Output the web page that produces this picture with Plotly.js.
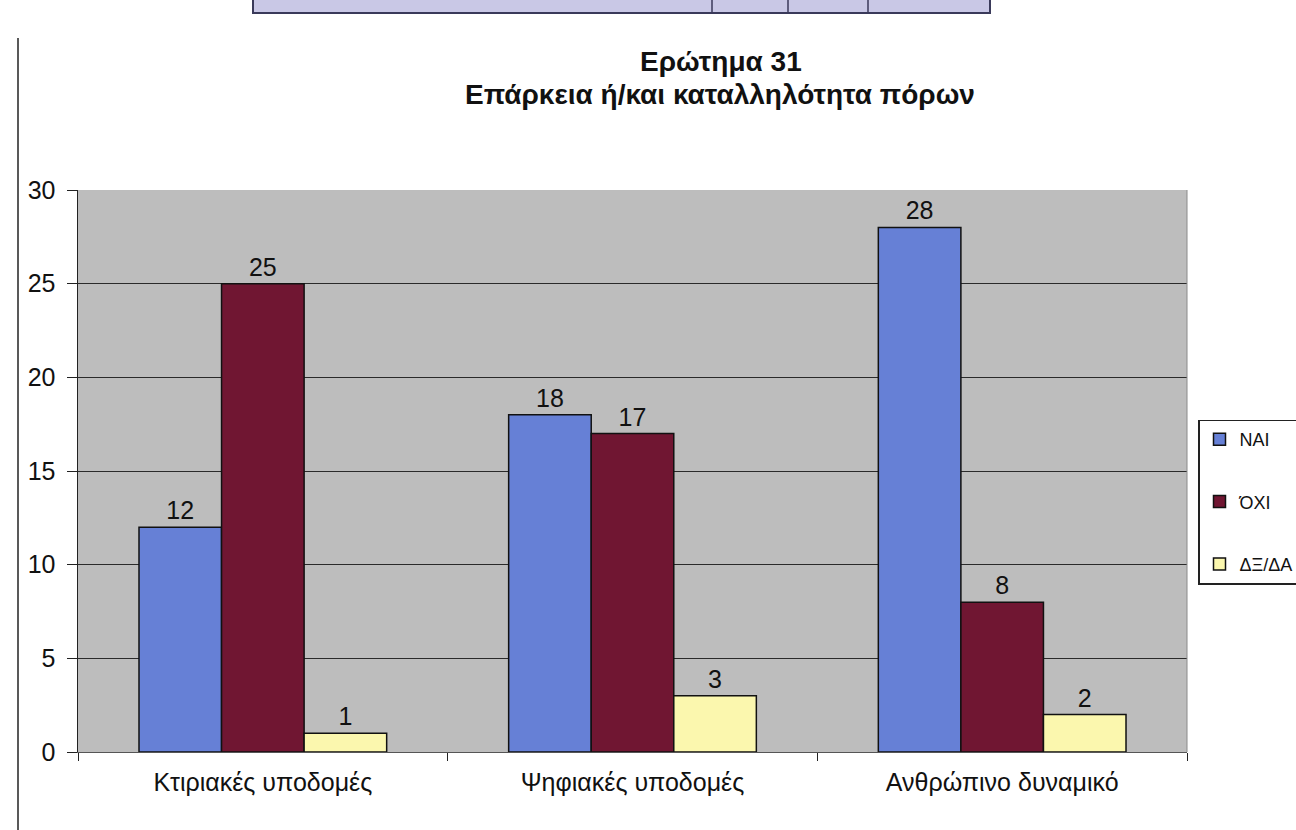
<!DOCTYPE html>
<html>
<head>
<meta charset="utf-8">
<script src="https://cdn.plot.ly/plotly-3.0.1.min.js"></script>
<style>html,body{margin:0;padding:0;background:#fff;}#chart{width:1296px;height:830px;}</style>
</head>
<body>
<div id="chart"></div>
<script>
const categories = ["Κτιριακές υποδομές", "Ψηφιακές υποδομές", "Ανθρώπινο δυναμικό"];
const seriesNames = ["NAI", "ΌΧΙ", "ΔΞ/ΔΑ"];
const valuesNai = [12, 18, 28];
const valuesOxi = [25, 17, 8];
const valuesDxda = [1, 3, 2];
const yTicks = [0, 5, 10, 15, 20, 25, 30];
const titleLine1 = "Ερώτημα 31";
const titleLine2 = "Επάρκεια ή/και καταλληλότητα πόρων";

const colors = ["#6680d6", "#701632", "#fbf7ae"];
const allValues = [valuesNai, valuesOxi, valuesDxda];

const traces = allValues.map((vals, i) => ({
  type: "bar",
  name: seriesNames[i],
  x: categories,
  y: vals,
  text: vals.map(String),
  textposition: "outside",
  cliponaxis: false,
  textfont: {family: "Liberation Sans, Arial, sans-serif", size: 25, color: "#111"},
  marker: {color: colors[i], line: {color: "#111", width: 1.5}},
  legendgroup: "g" + i
}));

const L = 78, R = 1187, T = 190, B = 752;
const PW = R - L, PH = B - T;
const px = v => (v - L) / PW;
const py = v => (B - v) / PH;

const layout = {
  width: 1296,
  height: 830,
  margin: {l: L, r: 1296 - R, t: T, b: 830 - B, autoexpand: false},
  paper_bgcolor: "#ffffff",
  plot_bgcolor: "#bdbdbd",
  font: {family: "Liberation Sans, Arial, sans-serif", color: "#111"},
  annotations: [
    {text: "<b>" + titleLine1 + "</b>", xref: "paper", yref: "paper", x: px(721), y: py(61), xanchor: "center", yanchor: "middle", showarrow: false, font: {size: 28, color: "#111"}},
    {text: "<b>" + titleLine2 + "</b>", xref: "paper", yref: "paper", x: px(720), y: py(94), xanchor: "center", yanchor: "middle", showarrow: false, font: {size: 28, color: "#111"}}
  ],
  bargap: 0.33,
  bargroupgap: 0,
  barmode: "group",
  showlegend: true,
  legend: {
    x: px(1198), xanchor: "left", y: py(502), yanchor: "middle",
    bordercolor: "#222", borderwidth: 1.5, bgcolor: "#ffffff",
    font: {size: 18, color: "#111"},
    tracegroupgap: 36,
    traceorder: "grouped",
    itemwidth: 30
  },
  xaxis: {
    type: "category",
    ticks: "outside", tickson: "boundaries", ticklen: 8, tickcolor: "#222",
    showline: true, linecolor: "#555", linewidth: 1,
    tickfont: {size: 25, color: "#111"},
    ticklabelstandoff: 8,
    showgrid: false
  },
  yaxis: {
    range: [0, 30],
    tickvals: yTicks,
    ticks: "outside", ticklen: 10, tickcolor: "#222",
    showline: true, linecolor: "#222", linewidth: 1.5,
    gridcolor: "#2a2a2a", gridwidth: 1,
    zeroline: false,
    ticklabelstandoff: 6,
    tickfont: {size: 25, color: "#111"}
  },
  shapes: [
    {type: "line", xref: "paper", yref: "paper", x0: 1, x1: 1, y0: 0, y1: 1, line: {color: "#8a8a8a", width: 1}},
    {type: "rect", xref: "paper", yref: "paper", x0: px(253), x1: px(990), y0: py(13), y1: py(-5), fillcolor: "#c9c8e6", line: {color: "#3a3a5a", width: 2}, layer: "above"},
    {type: "line", xref: "paper", yref: "paper", x0: px(712), x1: px(712), y0: py(13), y1: py(-5), line: {color: "#3a3a5a", width: 1.5}},
    {type: "line", xref: "paper", yref: "paper", x0: px(788), x1: px(788), y0: py(13), y1: py(-5), line: {color: "#3a3a5a", width: 1.5}},
    {type: "line", xref: "paper", yref: "paper", x0: px(868), x1: px(868), y0: py(13), y1: py(-5), line: {color: "#3a3a5a", width: 1.5}},
    {type: "line", xref: "paper", yref: "paper", x0: px(18), x1: px(18), y0: py(835), y1: py(38), line: {color: "#222", width: 1.5}}
  ]
};

Plotly.newPlot("chart", traces, layout, {displayModeBar: false, staticPlot: true});
</script>
</body>
</html>
